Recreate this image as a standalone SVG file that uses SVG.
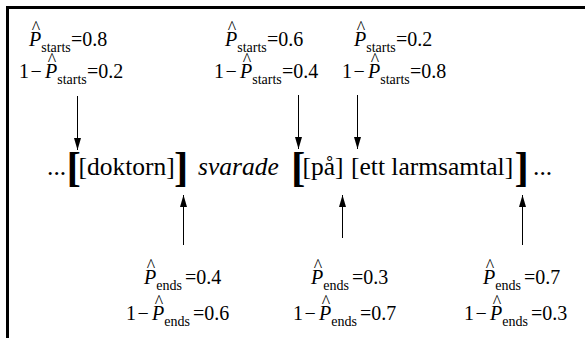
<svg xmlns="http://www.w3.org/2000/svg" width="585" height="338" viewBox="0 0 585 338">
<defs>
<style>
.t{font-family:"Liberation Serif","Times New Roman",serif;font-size:20px;fill:#000}
.it{font-style:italic}
.sub{font-size:14px}
.hat{font-size:18px}
.main{font-size:25.5px}
.big{font-size:43px;font-weight:bold}
.conn line{stroke:#000;stroke-width:1}
</style>
<marker id="arr" markerUnits="userSpaceOnUse" markerWidth="12" markerHeight="7" refX="12" refY="3.5" orient="auto">
<path d="M0,0 L12,3.5 L0,7 z" fill="#000"/>
</marker>
</defs>
<rect width="585" height="338" fill="#fff"/>
<path d="M7.5,338 V7.5 H585" fill="none" stroke="#000" stroke-width="3"/>

<g id="start1">
<text class="t"><tspan class="hat" x="31.8" y="33.5">^</tspan><tspan class="it" x="29" y="46">P</tspan><tspan class="sub" dy="5.5">starts</tspan><tspan x="71" dy="-5.5">=0.8</tspan></text>
<text class="t"><tspan class="hat" x="47.8" y="65.5">^</tspan><tspan x="19" y="78">1</tspan><tspan x="30.5">−</tspan><tspan class="it" x="45">P</tspan><tspan class="sub" dy="5.5">starts</tspan><tspan x="87" dy="-5.5">=0.2</tspan></text>
</g>
<g id="start2">
<text class="t"><tspan class="hat" x="227.8" y="33.5">^</tspan><tspan class="it" x="225" y="46">P</tspan><tspan class="sub" dy="5.5">starts</tspan><tspan x="267" dy="-5.5">=0.6</tspan></text>
<text class="t"><tspan class="hat" x="242.8" y="65.5">^</tspan><tspan x="214" y="78">1</tspan><tspan x="225.5">−</tspan><tspan class="it" x="240">P</tspan><tspan class="sub" dy="5.5">starts</tspan><tspan x="282" dy="-5.5">=0.4</tspan></text>
</g>
<g id="start3">
<text class="t"><tspan class="hat" x="356.8" y="33.5">^</tspan><tspan class="it" x="354" y="46">P</tspan><tspan class="sub" dy="5.5">starts</tspan><tspan x="396" dy="-5.5">=0.2</tspan></text>
<text class="t"><tspan class="hat" x="370.8" y="65.5">^</tspan><tspan x="342" y="78">1</tspan><tspan x="353.5">−</tspan><tspan class="it" x="368">P</tspan><tspan class="sub" dy="5.5">starts</tspan><tspan x="410" dy="-5.5">=0.8</tspan></text>
</g>

<g id="sentence">
<text class="t main" y="174.5"><tspan x="47" y="174.5">...</tspan><tspan class="big" x="66.5" y="181">[</tspan><tspan x="78.5" y="174.5">[doktorn]</tspan><tspan class="big" x="174" y="181">]</tspan><tspan class="it" x="198" y="174.5">svarade</tspan><tspan class="big" x="291" y="181">[</tspan><tspan x="302.5" y="174.5">[på]</tspan><tspan x="351" y="174.5">[ett larmsamtal]</tspan><tspan class="big" x="514.5" y="181">]</tspan><tspan x="533" y="174.5">...</tspan></text>
</g>

<g id="end1">
<text class="t"><tspan class="hat" x="146.8" y="271.5">^</tspan><tspan class="it" x="144" y="284">P</tspan><tspan class="sub" dy="5.5">ends</tspan><tspan x="185" dy="-5.5">=0.4</tspan></text>
<text class="t"><tspan class="hat" x="154.8" y="307.5">^</tspan><tspan x="126" y="320">1</tspan><tspan x="137.5">−</tspan><tspan class="it" x="152">P</tspan><tspan class="sub" dy="5.5">ends</tspan><tspan x="193" dy="-5.5">=0.6</tspan></text>
</g>
<g id="end2">
<text class="t"><tspan class="hat" x="313.8" y="271.5">^</tspan><tspan class="it" x="311" y="284">P</tspan><tspan class="sub" dy="5.5">ends</tspan><tspan x="352" dy="-5.5">=0.3</tspan></text>
<text class="t"><tspan class="hat" x="321.8" y="307.5">^</tspan><tspan x="293" y="320">1</tspan><tspan x="304.5">−</tspan><tspan class="it" x="319">P</tspan><tspan class="sub" dy="5.5">ends</tspan><tspan x="360" dy="-5.5">=0.7</tspan></text>
</g>
<g id="end3">
<text class="t"><tspan class="hat" x="485.8" y="271.5">^</tspan><tspan class="it" x="483" y="284">P</tspan><tspan class="sub" dy="5.5">ends</tspan><tspan x="524" dy="-5.5">=0.7</tspan></text>
<text class="t"><tspan class="hat" x="492.8" y="307.5">^</tspan><tspan x="464" y="320">1</tspan><tspan x="475.5">−</tspan><tspan class="it" x="490">P</tspan><tspan class="sub" dy="5.5">ends</tspan><tspan x="531" dy="-5.5">=0.3</tspan></text>
</g>

<g id="connectors" class="conn">
<line x1="77.5" y1="96" x2="77.5" y2="150" marker-end="url(#arr)"/>
<line x1="298.5" y1="95" x2="298.5" y2="149" marker-end="url(#arr)"/>
<line x1="357.5" y1="95" x2="357.5" y2="149" marker-end="url(#arr)"/>
<line x1="183.5" y1="245" x2="183.5" y2="195" marker-end="url(#arr)"/>
<line x1="342.5" y1="238" x2="342.5" y2="195" marker-end="url(#arr)"/>
<line x1="522.5" y1="245" x2="522.5" y2="195" marker-end="url(#arr)"/>
</g>
</svg>
